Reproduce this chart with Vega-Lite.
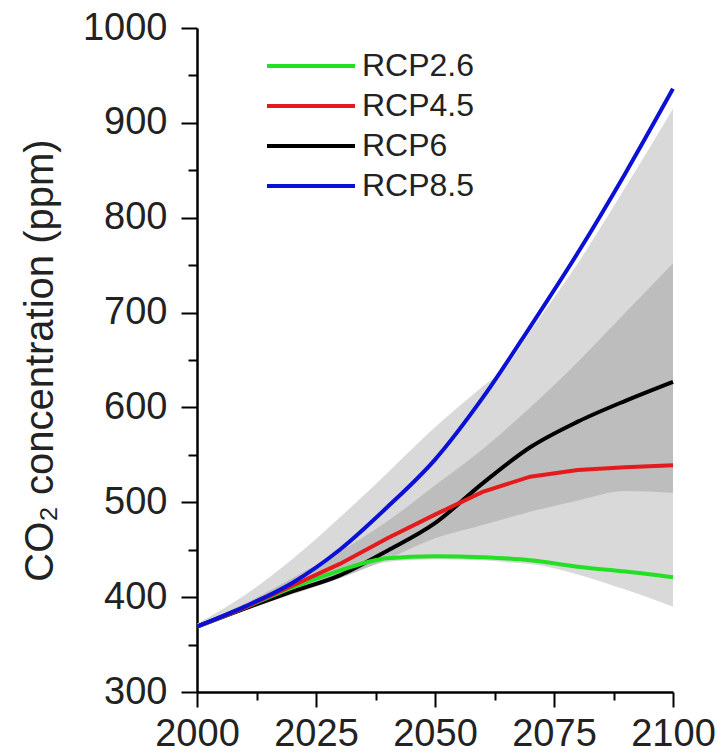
{
  "$schema": "https://vega.github.io/schema/vega-lite/v6.json",
  "width": 476,
  "height": 664,
  "autosize": {"type": "none"},
  "padding": {"left": 197, "top": 28, "right": 49, "bottom": 63},
  "background": "white",
  "config": {
    "view": {"stroke": null},
    "font": "Liberation Sans",
    "axis": {
      "grid": false,
      "domainColor": "#000000",
      "domainWidth": 2.5,
      "tickColor": "#000000",
      "tickWidth": 2,
      "labelColor": "#222222",
      "labelFont": "Liberation Sans",
      "labelFontSize": 38,
      "labelFlush": false,
      "labelOverlap": false,
      "titleFont": "Liberation Sans",
      "titleFontWeight": "normal",
      "titleColor": "#222222"
    }
  },
  "datasets": {
    "lines": [
      {"scenario": "RCP2.6", "year": 2000, "co2": 369},
      {"scenario": "RCP2.6", "year": 2010, "co2": 389},
      {"scenario": "RCP2.6", "year": 2020, "co2": 410},
      {"scenario": "RCP2.6", "year": 2030, "co2": 428},
      {"scenario": "RCP2.6", "year": 2040, "co2": 441},
      {"scenario": "RCP2.6", "year": 2050, "co2": 443},
      {"scenario": "RCP2.6", "year": 2060, "co2": 442},
      {"scenario": "RCP2.6", "year": 2070, "co2": 439},
      {"scenario": "RCP2.6", "year": 2080, "co2": 432},
      {"scenario": "RCP2.6", "year": 2090, "co2": 427},
      {"scenario": "RCP2.6", "year": 2100, "co2": 421},
      {"scenario": "RCP4.5", "year": 2000, "co2": 369},
      {"scenario": "RCP4.5", "year": 2010, "co2": 389},
      {"scenario": "RCP4.5", "year": 2020, "co2": 412},
      {"scenario": "RCP4.5", "year": 2030, "co2": 435},
      {"scenario": "RCP4.5", "year": 2040, "co2": 462},
      {"scenario": "RCP4.5", "year": 2050, "co2": 487},
      {"scenario": "RCP4.5", "year": 2060, "co2": 511},
      {"scenario": "RCP4.5", "year": 2070, "co2": 527},
      {"scenario": "RCP4.5", "year": 2080, "co2": 534},
      {"scenario": "RCP4.5", "year": 2090, "co2": 537},
      {"scenario": "RCP4.5", "year": 2100, "co2": 539},
      {"scenario": "RCP6", "year": 2000, "co2": 369},
      {"scenario": "RCP6", "year": 2010, "co2": 388},
      {"scenario": "RCP6", "year": 2020, "co2": 406},
      {"scenario": "RCP6", "year": 2030, "co2": 423},
      {"scenario": "RCP6", "year": 2040, "co2": 449},
      {"scenario": "RCP6", "year": 2050, "co2": 478},
      {"scenario": "RCP6", "year": 2060, "co2": 520},
      {"scenario": "RCP6", "year": 2070, "co2": 558},
      {"scenario": "RCP6", "year": 2080, "co2": 585},
      {"scenario": "RCP6", "year": 2090, "co2": 607},
      {"scenario": "RCP6", "year": 2100, "co2": 627},
      {"scenario": "RCP8.5", "year": 2000, "co2": 369},
      {"scenario": "RCP8.5", "year": 2010, "co2": 390},
      {"scenario": "RCP8.5", "year": 2020, "co2": 415},
      {"scenario": "RCP8.5", "year": 2030, "co2": 450},
      {"scenario": "RCP8.5", "year": 2040, "co2": 495},
      {"scenario": "RCP8.5", "year": 2050, "co2": 545},
      {"scenario": "RCP8.5", "year": 2060, "co2": 610},
      {"scenario": "RCP8.5", "year": 2070, "co2": 685},
      {"scenario": "RCP8.5", "year": 2080, "co2": 763},
      {"scenario": "RCP8.5", "year": 2090, "co2": 847},
      {"scenario": "RCP8.5", "year": 2100, "co2": 936}
    ],
    "bands": [
      {"band": "outer", "year": 2000, "lo": 369, "hi": 372},
      {"band": "outer", "year": 2010, "lo": 386, "hi": 402},
      {"band": "outer", "year": 2020, "lo": 404, "hi": 440},
      {"band": "outer", "year": 2030, "lo": 421, "hi": 484},
      {"band": "outer", "year": 2040, "lo": 437, "hi": 531},
      {"band": "outer", "year": 2050, "lo": 440, "hi": 579},
      {"band": "outer", "year": 2060, "lo": 439, "hi": 622},
      {"band": "outer", "year": 2065, "lo": 437, "hi": 643},
      {"band": "outer", "year": 2070, "lo": 435, "hi": 680},
      {"band": "outer", "year": 2080, "lo": 424, "hi": 752},
      {"band": "outer", "year": 2090, "lo": 408, "hi": 832},
      {"band": "outer", "year": 2100, "lo": 390, "hi": 915},
      {"band": "inner", "year": 2000, "lo": 369, "hi": 371},
      {"band": "inner", "year": 2010, "lo": 386, "hi": 393},
      {"band": "inner", "year": 2020, "lo": 403, "hi": 420},
      {"band": "inner", "year": 2030, "lo": 420, "hi": 448},
      {"band": "inner", "year": 2040, "lo": 440, "hi": 480},
      {"band": "inner", "year": 2050, "lo": 462, "hi": 518},
      {"band": "inner", "year": 2060, "lo": 476, "hi": 556},
      {"band": "inner", "year": 2070, "lo": 490, "hi": 600},
      {"band": "inner", "year": 2080, "lo": 502, "hi": 648},
      {"band": "inner", "year": 2090, "lo": 512, "hi": 700},
      {"band": "inner", "year": 2100, "lo": 510, "hi": 752}
    ]
  },
  "layer": [
    {
      "data": {"name": "bands"},
      "transform": [{"filter": "datum.band === 'outer'"}],
      "mark": {"type": "area", "color": "#d9d9d9", "opacity": 1, "interpolate": "monotone"},
      "encoding": {
        "x": {
          "field": "year", "type": "quantitative",
          "scale": {"domain": [2000, 2100], "nice": false, "zero": false},
          "axis": {
            "title": null,
            "values": [2000, 2012.5, 2025, 2037.5, 2050, 2062.5, 2075, 2087.5, 2100],
            "labelExpr": "datum.value % 25 === 0 ? format(datum.value, 'd') : ''",
            "tickSize": {"condition": {"test": "datum.value % 25 === 0", "value": 15}, "value": 8},
            "labelPadding": 8
          }
        },
        "y": {
          "field": "lo", "type": "quantitative",
          "scale": {"domain": [300, 1000], "nice": false, "zero": false},
          "axis": {
            "title": "CO₂ concentration (ppm)",
            "titleFontSize": 40,
            "titlePadding": 22,
            "values": [300, 350, 400, 450, 500, 550, 600, 650, 700, 750, 800, 850, 900, 950, 1000],
            "labelExpr": "datum.value % 100 === 0 ? format(datum.value, 'd') : ''",
            "tickSize": {"condition": {"test": "datum.value % 100 === 0", "value": 16}, "value": 9},
            "labelPadding": 14
          }
        },
        "y2": {"field": "hi"}
      }
    },
    {
      "data": {"name": "bands"},
      "transform": [{"filter": "datum.band === 'inner'"}],
      "mark": {"type": "area", "color": "#bdbdbd", "opacity": 1, "interpolate": "monotone"},
      "encoding": {
        "x": {"field": "year", "type": "quantitative"},
        "y": {"field": "lo", "type": "quantitative"},
        "y2": {"field": "hi"}
      }
    },
    {
      "data": {"name": "lines"},
      "transform": [{"filter": "datum.scenario === 'RCP6'"}],
      "mark": {"type": "line", "strokeWidth": 4, "interpolate": "monotone"},
      "encoding": {
        "x": {"field": "year", "type": "quantitative"},
        "y": {"field": "co2", "type": "quantitative"},
        "color": {"field": "scenario", "type": "nominal"}
      }
    },
    {
      "data": {"name": "lines"},
      "transform": [{"filter": "datum.scenario === 'RCP2.6'"}],
      "mark": {"type": "line", "strokeWidth": 4, "interpolate": "monotone"},
      "encoding": {
        "x": {"field": "year", "type": "quantitative"},
        "y": {"field": "co2", "type": "quantitative"},
        "color": {"field": "scenario", "type": "nominal"}
      }
    },
    {
      "data": {"name": "lines"},
      "transform": [{"filter": "datum.scenario === 'RCP4.5'"}],
      "mark": {"type": "line", "strokeWidth": 4, "interpolate": "linear"},
      "encoding": {
        "x": {"field": "year", "type": "quantitative"},
        "y": {"field": "co2", "type": "quantitative"},
        "color": {"field": "scenario", "type": "nominal"}
      }
    },
    {
      "data": {"name": "lines"},
      "transform": [{"filter": "datum.scenario === 'RCP8.5'"}],
      "mark": {"type": "line", "strokeWidth": 4, "interpolate": "monotone"},
      "encoding": {
        "x": {"field": "year", "type": "quantitative"},
        "y": {"field": "co2", "type": "quantitative"},
        "color": {
          "field": "scenario", "type": "nominal",
          "scale": {
            "domain": ["RCP2.6", "RCP4.5", "RCP6", "RCP8.5"],
            "range": ["#22e022", "#e41a1c", "#000000", "#0a10d6"]
          },
          "legend": {
            "orient": "none",
            "legendX": 98,
            "legendY": 22,
            "title": null,
            "padding": 0,
            "symbolType": "M-4,0L4,0",
            "symbolSize": 484,
            "symbolStrokeWidth": 4,
            "labelFont": "Liberation Sans",
            "labelFontSize": 32,
            "labelColor": "#222222",
            "labelOffset": 35,
            "rowPadding": 8
          }
        }
      }
    }
  ]
}
